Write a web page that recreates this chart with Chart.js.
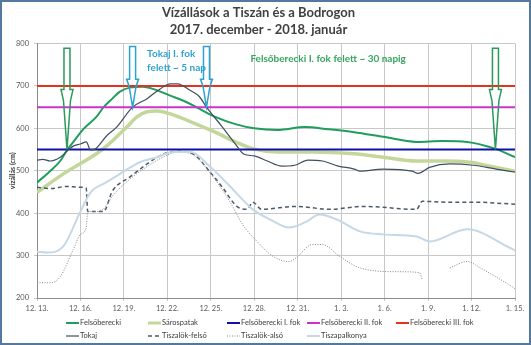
<!DOCTYPE html>
<html>
<head>
<meta charset="utf-8">
<script src="https://cdn.jsdelivr.net/npm/chart.js@4"></script>
<style>
  body { margin: 0; background: #fff; font-family: Lato, "Open Sans", sans-serif; }
  #wrap { position: relative; width: 531px; height: 345px; }
  #frame { position: absolute; left: 0; top: 0; width: 531px; height: 345px; box-sizing: border-box; border: 2px solid #55799e; pointer-events: none; }
  .lg { position: absolute; font-size: 7.5px; color: #404040; white-space: nowrap; line-height: 10px; }
  .lg svg { vertical-align: middle; margin-right: 1px; }
</style>
</head>
<body>
<div id="wrap">
  <canvas id="c" width="531" height="345"></canvas>
  <div id="legend"></div>
  <div id="frame"></div>
</div>
<script>
// x = days since 2017-12-13
const xTickLabels = ["12. 13.", "12. 16.", "12. 19.", "12. 22.", "12. 25.", "12. 28.", "12. 31.", "1. 3.", "1. 6.", "1. 9.", "1. 12.", "1. 15."];

const felsoDays = [0, 0.9, 1.6, 2.1, 2.6, 3.2, 4.1, 4.6, 5.2, 5.7, 6.4, 7.3, 8, 9.2, 10.3, 11, 12.3, 13.7, 15, 16.6, 18.5, 20.1, 21.9, 23.9, 26.2, 28, 29.7, 31.7, 33];
const felsoVals = [472, 499, 523, 550, 572, 598, 627, 650, 670, 686, 696, 698, 693, 677, 662, 650, 627, 610, 600, 596, 603, 598, 591, 580, 568, 570, 568, 551, 532];

const sarosDays = [0, 1.8, 4.1, 4.8, 5.5, 6.2, 6.9, 7.6, 8.3, 9.2, 11, 12.3, 13.7, 15, 16.6, 19, 21.9, 23.9, 26.2, 28, 29.9, 31.2, 33];
const sarosVals = [449, 492, 540, 558, 580, 603, 627, 639, 641, 634, 610, 591, 568, 551, 544, 544, 540, 532, 523, 523, 520, 511, 499];

const tokajDays = [0, 0.4, 0.9, 1.6, 2.1, 2.5, 3, 3.4, 3.7, 4, 4.8, 5.5, 6.6, 7.6, 8.5, 9.2, 9.7, 10.6, 11.2, 11.7, 12.8, 13.7, 14.3, 15, 15.9, 16.9, 17.8, 18.7, 19.7, 20.8, 21.9, 22.3, 23.9, 25.9, 26.3, 27.1, 28.5, 30.1, 31.7, 33];
const tokajVals = [525, 527, 523, 532, 547, 558, 563, 568, 549, 551, 582, 603, 650, 670, 693, 705, 705, 689, 675, 650, 603, 563, 539, 535, 523, 511, 513, 525, 523, 511, 504, 499, 504, 499, 494, 508, 516, 513, 504, 497];

const felsoLokDays = [0, 1, 2, 3, 3.4, 3.5, 4.6, 5.2, 6.4, 7.6, 8.7, 9.7, 10.8, 11.9, 12.8, 13.8, 14.5, 14.9, 15.5, 17.9, 20.2, 22.5, 26.2, 26.6, 28.3, 30.1, 33];
const felsoLokVals = [461, 458, 463, 461, 459, 404, 404, 452, 485, 516, 539, 546, 539, 499, 461, 416, 409, 426, 409, 416, 409, 416, 409, 428, 426, 426, 421];

const alsoLokDays = [0, 1, 1.6, 2.5, 3, 3.4, 3.5, 4.2, 4.6, 5.2, 6.4, 7.6, 8.7, 9.7, 10.8, 11.9, 13.3, 14.2, 15.2, 16.3, 17.4, 17.9, 19, 19.7, 20.9, 22.3, 24.8, 26.4, 26.6, 27.5, 28.5, 29.7, 30.6, 32.6, 33];
const alsoLokVals = [236, 236, 250, 314, 350, 366, 404, 404, 410, 440, 480, 510, 532, 544, 537, 497, 428, 373, 333, 298, 286, 295, 326, 326, 298, 271, 262, 260, 243, null, 271, 286, 271, 231, 222];

const palkDays = [0, 0.7, 1.8, 3, 3.7, 4.8, 5.7, 7.1, 8.3, 9.4, 10.6, 11.9, 13.3, 14.9, 16.1, 17.4, 18.6, 19.5, 20.7, 22.3, 23.9, 26.2, 27.1, 29.7, 32.6, 33];
const palkVals = [309, 307, 321, 404, 449, 473, 492, 520, 532, 544, 544, 511, 464, 409, 385, 366, 380, 397, 385, 357, 350, 345, 333, 362, 319, 312];

// Felsőberecki alarm levels (I., II., III. fok)
const levelVals = [550, 650, 700];
const levelSpan = [0, 33];

// arrows: day, tip value, top value
const arrowDays = [2.07, 6.6, 11.7, 31.65];
const arrowTips = [550, 650, 650, 550];
const arrowTops = [789, 793, 793, 789];

function pts(days, vals) {
  return days.map((d, i) => ({ x: d, y: vals[i] }));
}

const series = [
  { label: "Felsőberecki", data: pts(felsoDays, felsoVals), borderColor: "#1f9d5b", borderWidth: 2 },
  { label: "Sárospatak", data: pts(sarosDays, sarosVals), borderColor: "#c4d79b", borderWidth: 3.5 },
  { label: "Felsőberecki I. fok", data: pts(levelSpan, [levelVals[0], levelVals[0]]), borderColor: "#1010a6", borderWidth: 2 },
  { label: "Felsőberecki II. fok", data: pts(levelSpan, [levelVals[1], levelVals[1]]), borderColor: "#cc33cc", borderWidth: 2 },
  { label: "Felsőberecki III. fok", data: pts(levelSpan, [levelVals[2], levelVals[2]]), borderColor: "#e5321e", borderWidth: 2 },
  { label: "Tokaj", data: pts(tokajDays, tokajVals), borderColor: "#3e4f60", borderWidth: 1.2 },
  { label: "Tiszalök-felső", data: pts(felsoLokDays, felsoLokVals), borderColor: "#4a5a6a", borderWidth: 1.5, borderDash: [4, 3] },
  { label: "Tiszalök-alsó", data: pts(alsoLokDays, alsoLokVals), borderColor: "#858585", borderWidth: 1, borderDash: [1, 1.5] },
  { label: "Tiszapalkonya", data: pts(palkDays, palkVals), borderColor: "#c6d8e6", borderWidth: 2 }
];

series.forEach((s, i) => {
  s.pointRadius = 0;
  s.fill = false;
  s.cubicInterpolationMode = "monotone";
  s.order = series.length - i;
});

const arrowColors = ["#2a9a5a", "#2fa3cf", "#2fa3cf", "#2a9a5a"];
const arrowHeads = [60, 28, 28, 60];

const annotate = {
  id: "annotate",
  afterDatasetsDraw(chart) {
    const ctx = chart.ctx;
    const xs = chart.scales.x, ys = chart.scales.y;
    ctx.save();
    arrowDays.forEach((d, i) => {
      const cx = xs.getPixelForValue(d);
      const ty = ys.getPixelForValue(arrowTips[i]);
      const y0 = ys.getPixelForValue(arrowTops[i]);
      const y1 = ty - arrowHeads[i];
      const y2 = y1 + (arrowHeads[i] > 40 ? 11 : 7);
      ctx.beginPath();
      ctx.moveTo(cx - 3, y0);
      ctx.lineTo(cx + 3, y0);
      ctx.lineTo(cx + 3, y1);
      ctx.lineTo(cx + 6, y1);
      ctx.lineTo(cx + 3.5, y2);
      ctx.lineTo(cx, ty);
      ctx.lineTo(cx - 3.5, y2);
      ctx.lineTo(cx - 6, y1);
      ctx.lineTo(cx - 3, y1);
      ctx.closePath();
      ctx.lineWidth = 1.5;
      ctx.strokeStyle = arrowColors[i];
      ctx.stroke();
    });
    ctx.font = "bold 10px Lato";
    ctx.textBaseline = "middle";
    ctx.fillStyle = "#31a2cf";
    ctx.textAlign = "left";
    ctx.fillText("Tokaj I. fok", xs.getPixelForValue(7.6), ys.getPixelForValue(776));
    ctx.fillText("felett ~ 5 nap", xs.getPixelForValue(7.6), ys.getPixelForValue(743));
    ctx.fillStyle = "#35a55f";
    ctx.textAlign = "center";
    ctx.fillText("Felsőberecki I. fok felett ~ 30 napig", xs.getPixelForValue(20.1), ys.getPixelForValue(764));
    ctx.restore();
  }
};

const tickFont = { family: "Lato", size: 7.5 };

new Chart(document.getElementById("c"), {
  type: "line",
  data: { datasets: series },
  options: {
    responsive: false,
    animation: false,
    devicePixelRatio: 1,
    layout: { padding: { left: 2, right: 16, top: 2, bottom: 0 } },
    plugins: {
      legend: { display: false },
      tooltip: { enabled: false },
      title: {
        display: true,
        text: ["Vízállások a Tiszán és a Bodrogon", "2017. december - 2018. január"],
        color: "#404040",
        font: { family: "Lato", size: 13, weight: "bold", lineHeight: 1.25 },
        padding: { top: 3, bottom: 6 }
      }
    },
    scales: {
      x: {
        type: "linear",
        min: 0,
        max: 33,
        afterFit: (s) => { s.height = 47; },
        afterBuildTicks: (s) => { s.ticks = xTickLabels.map((_, i) => ({ value: i * 3 })); },
        ticks: {
          callback: (v) => xTickLabels[Math.round(v / 3)],
          font: tickFont, color: "#595959", maxRotation: 0, autoSkip: false, padding: 3
        },
        grid: { color: "#c8c8c8", tickLength: 3 },
        border: { color: "#8c8c8c" }
      },
      y: {
        min: 200,
        max: 800,
        afterFit: (s) => { s.width = 35; },
        ticks: { stepSize: 100, font: tickFont, color: "#595959", padding: 5 },
        grid: { color: "#c8c8c8", tickLength: 3 },
        border: { color: "#8c8c8c" },
        title: {
          display: true,
          text: "vízállás (cm)",
          color: "#404040",
          font: { family: "Lato", size: 7, weight: "bold" },
          padding: { top: 7, bottom: 0 }
        }
      }
    }
  },
  plugins: [annotate]
});

// legend laid out as a grid, like the original
const legendLeft = [66, 148, 227, 307, 396];
const legendRows = [[0, 1, 2, 3, 4], [5, 6, 7, 8]];
const legend = document.getElementById("legend");
legendRows.forEach((row, r) => {
  row.forEach((idx, c) => {
    const s = series[idx];
    const item = document.createElement("div");
    item.className = "lg";
    item.style.left = legendLeft[c] + "px";
    item.style.top = (318 + r * 13) + "px";
    const dash = s.borderDash ? s.borderDash.join(",") : "none";
    item.innerHTML =
      '<svg width="13" height="6"><line x1="0" y1="3" x2="13" y2="3" stroke="' + s.borderColor +
      '" stroke-width="' + Math.min(s.borderWidth, 3) + '" stroke-dasharray="' + dash + '"/></svg>';
    item.appendChild(document.createTextNode(s.label));
    legend.appendChild(item);
  });
});
</script>
</body>
</html>
